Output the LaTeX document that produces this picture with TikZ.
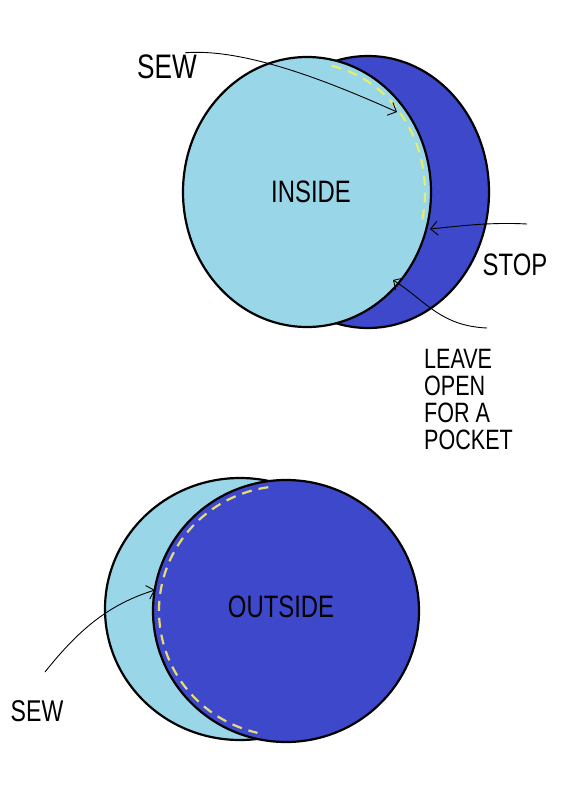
\documentclass[tikz,border=0pt]{standalone}
\usepackage{fontspec}
\setmainfont[FakeStretch=0.77]{Liberation Sans}
\usetikzlibrary{arrows.meta}
\definecolor{lightb}{HTML}{98D6E8}
\definecolor{darkb}{HTML}{3D48CA}
\definecolor{stitchA}{HTML}{E4EE6A}
\definecolor{stitchB}{HTML}{E6DC70}
\begin{document}
\begin{tikzpicture}[x=1pt,y=-1pt, line join=round,
 piece/.style={draw=black, line width=2.2pt},
 stitch/.style={line width=2.2pt, dash pattern=on 10pt off 7pt},
 lbl/.style={font=\fontsize{31}{31}\selectfont, inner sep=0pt},
 small/.style={font=\fontsize{28}{27}\selectfont, inner sep=0pt, anchor=base west},
 pointer/.style={draw=black, line width=0.9pt, -{Straight Barb[length=7pt,width=14pt]}}]
\useasboundingbox[fill=white] (0,0) rectangle (569,800);
% ---------- top: inside ----------
\filldraw[piece, fill=darkb] (368,192) ellipse [x radius=121, y radius=136];
\filldraw[piece, fill=lightb] (307,192) ellipse [x radius=124, y radius=135];
\draw[stitch, stitchA] (307,192) ++(-78:118 and 129) arc[start angle=-78, end angle=14, x radius=118, y radius=129];
\node[lbl] (inside) at (311,192) {INSIDE};
\node[lbl, font=\fontsize{34}{34}\selectfont] (sewtop) at (167,67) {SEW};
\node[lbl] (stop) at (515,265) {STOP};
\node[small] (leave1) at (424,368) {LEAVE};
\node[small] (leave2) at (424,395) {OPEN};
\node[small] (leave3) at (424,422) {FOR A};
\node[small] (leave4) at (424,449) {POCKET};
\coordinate (sewtip) at (397,112);
\draw[pointer] ([xshift=-12pt,yshift=2pt]sewtop.north east) .. controls (245,48) and (330,82) .. (sewtip);
\coordinate (stopstart) at (527,224);
\coordinate (stoptip) at (430,229);
\draw[pointer] (stopstart) .. controls (490,222) and (460,226) .. (stoptip);
\coordinate (leavestart) at (487,328);
\coordinate (leavetip) at (393,280);
\draw[pointer] (leavestart) .. controls (440,326) and (425,300) .. (leavetip);
% ---------- bottom: outside ----------
\filldraw[piece, fill=lightb] (240,609) ellipse [x radius=135, y radius=131];
\filldraw[piece, fill=darkb] (286,611) ellipse [x radius=133, y radius=131];
\draw[stitch, stitchB] (286,611) ++(262:127 and 125) arc[start angle=262, end angle=103, x radius=127, y radius=125];
\node[lbl] (outside) at (281,607) {OUTSIDE};
\node[lbl, font=\fontsize{30}{30}\selectfont] (sewbot) at (37,711) {SEW};
\coordinate (sewbstart) at (45,672);
\coordinate (sewbtip) at (155,590);
\draw[pointer] (sewbstart) .. controls (80,628) and (110,604) .. (sewbtip);
\end{tikzpicture}
\end{document}
